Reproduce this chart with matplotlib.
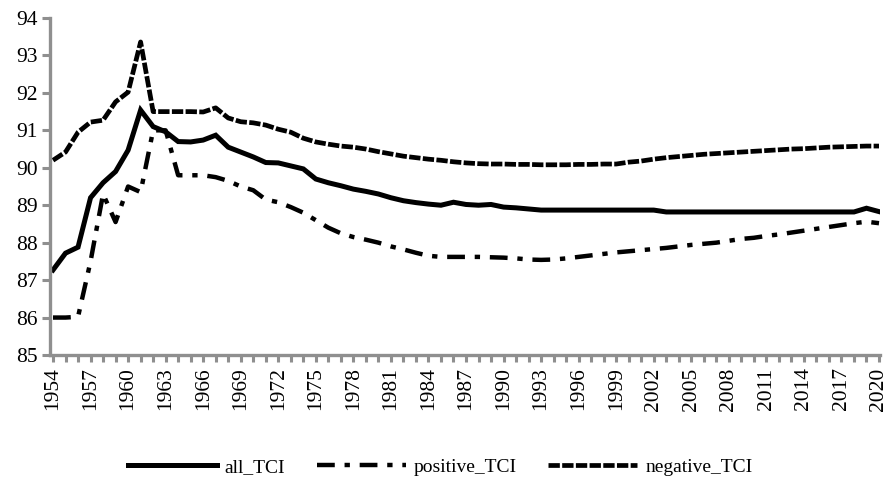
import matplotlib
matplotlib.use("Agg")
import matplotlib.pyplot as plt
import numpy as np

years = np.arange(1954, 2021)

all_tci = [
    87.27, 87.72, 87.88, 89.2, 89.6, 89.9, 90.47, 91.54, 91.1, 90.96,
    90.7, 90.69, 90.74, 90.87, 90.55, 90.42, 90.29, 90.14, 90.13, 90.05,
    89.97, 89.7, 89.6, 89.52, 89.43, 89.37, 89.3, 89.2, 89.12, 89.07,
    89.03, 89.0, 89.08, 89.02, 89.0, 89.02, 88.95, 88.93, 88.9, 88.87,
    88.87, 88.87, 88.87, 88.87, 88.87, 88.87, 88.87, 88.87, 88.87, 88.82,
    88.82, 88.82, 88.82, 88.82, 88.82, 88.82, 88.82, 88.82, 88.82, 88.82,
    88.82, 88.82, 88.82, 88.82, 88.82, 88.92, 88.83,
]
positive_tci = [
    86.0, 86.0, 86.02, 87.5, 89.3, 88.55, 89.5, 89.35, 91.0, 91.0,
    89.8, 89.8, 89.8, 89.75, 89.65, 89.5, 89.4, 89.15, 89.08, 88.95,
    88.8, 88.6, 88.4, 88.25, 88.15, 88.08, 88.0, 87.9, 87.82, 87.73,
    87.65, 87.62, 87.62, 87.62, 87.62, 87.61, 87.6, 87.58, 87.55, 87.54,
    87.55, 87.58, 87.62, 87.66, 87.7, 87.74, 87.77, 87.8, 87.83, 87.86,
    87.9, 87.94, 87.97, 88.0, 88.05, 88.1, 88.13, 88.18, 88.22, 88.27,
    88.32, 88.37, 88.42, 88.47, 88.52, 88.56, 88.52,
]
negative_tci = [
    90.2, 90.42, 90.95, 91.22, 91.27, 91.76, 92.02, 93.36, 91.5, 91.5,
    91.5, 91.5, 91.49, 91.6, 91.33, 91.23, 91.2, 91.14, 91.03, 90.95,
    90.79, 90.69, 90.63, 90.58, 90.55, 90.5, 90.43, 90.37, 90.31, 90.27,
    90.23, 90.2, 90.16, 90.13, 90.11, 90.1, 90.1, 90.09, 90.09, 90.08,
    90.08, 90.08, 90.09, 90.09, 90.1, 90.1, 90.15, 90.18, 90.23, 90.27,
    90.3, 90.33, 90.36, 90.38, 90.4, 90.42, 90.44, 90.46, 90.48, 90.5,
    90.51, 90.53, 90.55, 90.56, 90.57, 90.58, 90.58,
]

plt.rcParams["font.family"] = ["Liberation Serif", "DejaVu Serif"]
grey = "#8f8f8f"

fig = plt.figure(figsize=(8.9, 4.8), dpi=100)
ax = fig.add_axes([50 / 890, 1 - 355 / 480, 830 / 890, 337 / 480])

ax.plot(years, all_tci, color="black", linewidth=3.6, label="all_TCI",
        solid_joinstyle="miter")
ax.plot(years, positive_tci, color="black", linewidth=3.2, label="positive_TCI",
        dashes=(4, 2.2, 1.2, 2.2))
ax.plot(years, negative_tci, color="black", linewidth=3.4, label="negative_TCI",
        dashes=(2.4, 0.5))

ax.set_xlim(1953.76, 2020.08)
ax.set_ylim(85, 94)
ax.set_yticks(np.arange(85, 95, 1))
ax.set_xticks(years, minor=True)
ax.set_xticks(years[::3])
ax.set_xticklabels([str(y) for y in years[::3]], rotation=90)

for side in ("top", "right"):
    ax.spines[side].set_visible(False)
for side in ("left", "bottom"):
    ax.spines[side].set_color(grey)
    ax.spines[side].set_linewidth(2.4)

ax.tick_params(axis="y", direction="out", length=6, width=2.2, color=grey,
               labelsize=15.5, pad=3)
ax.tick_params(axis="x", which="both", direction="out", length=5, width=2.2,
               color=grey, labelsize=15.5, pad=4)

fig.legend(*ax.get_legend_handles_labels(), loc="center",
           bbox_to_anchor=(440 / 890, 1 - 467 / 480), ncol=3, frameon=False,
           fontsize=14, handlelength=4.6, columnspacing=1.6, handletextpad=0.4,
           borderaxespad=0, borderpad=0)

fig.savefig("out.png", dpi=100)
